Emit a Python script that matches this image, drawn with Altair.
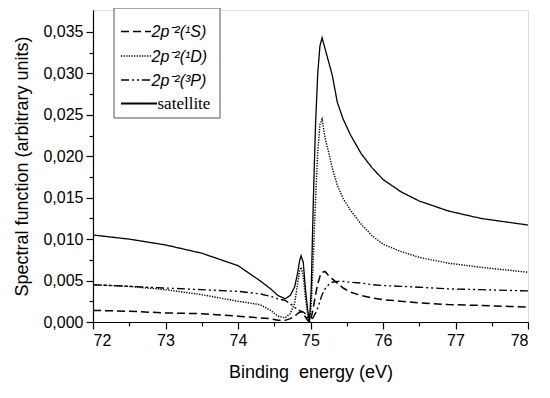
import altair as alt
import pandas as pd

# Binding energy grid (eV)
energy = [72.0, 72.5, 73.0, 73.5, 74.0, 74.3, 74.45, 74.55, 74.65, 74.72, 74.78, 74.82,
          74.85, 74.87, 74.9, 74.93, 74.96, 74.985, 75.01, 75.04, 75.07, 75.1, 75.13,
          75.16, 75.2, 75.25, 75.3, 75.37, 75.45, 75.55, 75.7, 75.85, 76.0, 76.25,
          76.5, 76.9, 77.35, 78.0]

sat = [0.0105, 0.0100, 0.0093, 0.0083, 0.0068, 0.0050, 0.0040, 0.0032, 0.0028, 0.0032,
       0.0042, 0.0058, 0.0074, 0.0080, 0.0072, 0.0040, 0.0015, 0.0000, 0.0040, 0.0150,
       0.0240, 0.0300, 0.0333, 0.0343, 0.0330, 0.0314, 0.0298, 0.0265, 0.0245, 0.0226,
       0.0203, 0.0186, 0.0172, 0.0157, 0.0146, 0.0134, 0.0125, 0.0117]

d1 = [0.0045, 0.0043, 0.0039, 0.0033, 0.0025, 0.0021, 0.0014, 0.0007, 0.0005, 0.0010,
      0.0022, 0.0045, 0.0062, 0.0066, 0.0055, 0.0030, 0.0010, 0.0000, 0.0020, 0.0080,
      0.0150, 0.0205, 0.0238, 0.0245, 0.0222, 0.0205, 0.0186, 0.0165, 0.0149, 0.0135,
      0.0118, 0.0104, 0.0094, 0.0085, 0.0078, 0.0071, 0.0066, 0.0060]

p3 = [0.0045, 0.0043, 0.0041, 0.0039, 0.0037, 0.0034, 0.0031, 0.0028, 0.0026, 0.0022,
      0.0018, 0.0015, 0.0014, 0.0013, 0.0012, 0.0010, 0.0005, 0.0000, 0.0002, 0.0006,
      0.0011, 0.0017, 0.0025, 0.0033, 0.0040, 0.0045, 0.0048, 0.0049, 0.0049, 0.0048,
      0.0047, 0.0045, 0.0044, 0.0043, 0.0042, 0.0040, 0.0039, 0.00375]

s1 = [0.0014, 0.0013, 0.0011, 0.0010, 0.0007, 0.0005, 0.0004, 0.0002, 0.0002, 0.0004,
      0.0007, 0.0010, 0.0012, 0.0012, 0.0010, 0.0006, 0.0002, 0.0000, 0.0005, 0.0018,
      0.0033, 0.0046, 0.0055, 0.0060, 0.0061, 0.0056, 0.0052, 0.0047, 0.0041, 0.0036,
      0.0032, 0.0029, 0.0027, 0.0025, 0.0023, 0.0021, 0.0020, 0.0018]

series_names = ["1S", "1D", "3P", "sat"]
legend_labels = ["2p\u207b\u00b2(\u00b9S)", "2p\u207b\u00b2(\u00b9D)", "2p\u207b\u00b2(\u00b3P)", "satellite"]
x_ticks = [72, 72.5, 73, 73.5, 74, 74.5, 75, 75.5, 76, 76.5, 77, 77.5, 78]
y_ticks = [0, 0.0025, 0.005, 0.0075, 0.01, 0.0125, 0.015, 0.0175, 0.02, 0.0225,
           0.025, 0.0275, 0.03, 0.0325, 0.035]

rows = []
for name, vals in zip(series_names, [s1, d1, p3, sat]):
    for e, v in zip(energy, vals):
        rows.append({"energy": e, "value": v, "series": name})
df = pd.DataFrame(rows)

dashes = [[8, 4], [1.3, 1.3], [8, 3, 2, 3, 2, 3], [1, 0]]
widths = [1.5, 1.3, 1.5, 1.8]
FONT = "Liberation Sans"

lines = alt.Chart(df).mark_line(color="black", clip=True).encode(
    x=alt.X("energy:Q",
            scale=alt.Scale(domain=[72, 78], nice=False, zero=False),
            axis=alt.Axis(values=x_ticks,
                          labelExpr="datum.value % 1 === 0 ? format(datum.value, 'd') : ''",
                          tickSize={"condition": {"test": "datum.value % 1 !== 0", "value": 4}, "value": 7},
                          labelFontSize=16, labelPadding=3, labelFont=FONT, labelColor="black",
                          domainColor="black", tickColor="black", domainWidth=1.2, tickWidth=1.2,
                          grid=False, labelOverlap=False,
                          title="Binding\u00a0 energy (eV)", titleFont=FONT, titleFontSize=18,
                          titleFontWeight="normal", titleColor="black",
                          titleX=217.5, titleY=55, titleBaseline="alphabetic")),
    y=alt.Y("value:Q",
            scale=alt.Scale(domain=[0, 0.03765], nice=False),
            axis=alt.Axis(values=y_ticks,
                          labelExpr="round(datum.value*10000) % 50 === 0 ? replace(format(datum.value, '.3f'), '.', ',') : ''",
                          tickSize={"condition": {"test": "round(datum.value*10000) % 50 !== 0", "value": 4}, "value": 7},
                          labelFontSize=16, labelPadding=3, labelFont=FONT, labelColor="black",
                          domainColor="black", tickColor="black", domainWidth=1.2, tickWidth=1.2,
                          grid=False, labelOverlap=False,
                          title="Spectral function (arbitrary units)", titleFont=FONT, titleFontSize=18,
                          titleFontWeight="normal", titleColor="black",
                          titleX=-71, titleY=156, titleAngle=-90, titleAlign="center",
                          titleBaseline="middle")),
    detail="series:N",
    strokeDash=alt.StrokeDash("series:N", scale=alt.Scale(domain=series_names, range=dashes), legend=None),
    strokeWidth=alt.StrokeWidth("series:N", scale=alt.Scale(domain=series_names, range=widths), legend=None),
)

one = pd.DataFrame({"k": [0]})
box = alt.Chart(one).mark_rect(fill="white", stroke="#555555", strokeWidth=1, clip=False).encode(
    x=alt.value(21), x2=alt.value(127), y=alt.value(-2), y2=alt.value(108))

layers = [lines, box]
row_y = [21.5, 46, 70, 93.5]
line_end = [58, 58, 58, 64]
text_x = [58.5, 58.5, 58.5, 64.5]
for i in range(4):
    layers.append(alt.Chart(one).mark_rule(color="black", strokeWidth=widths[i],
                                           strokeDash=dashes[i], clip=False).encode(
        x=alt.value(28), x2=alt.value(line_end[i]), y=alt.value(row_y[i])))
    if i < 3:
        t = alt.Chart(one).mark_text(text=legend_labels[i], font=FONT, fontSize=16, fontStyle="italic",
                                     align="left", baseline="alphabetic", color="black", clip=False)
    else:
        t = alt.Chart(one).mark_text(text=legend_labels[i], font="Liberation Serif", fontSize=17,
                                     align="left", baseline="alphabetic", color="black", clip=False)
    layers.append(t.encode(x=alt.value(text_x[i]), y=alt.value(row_y[i] + 5.5)))

chart = alt.layer(*layers).properties(
    width=435, height=312,
    autosize=alt.AutoSizeParams(type="none"),
    padding={"left": 85, "top": 2, "right": 14, "bottom": 68},
).configure_view(stroke=None).configure(background="white")

chart.save("out.html", embed_options={"renderer": "svg", "actions": False})
